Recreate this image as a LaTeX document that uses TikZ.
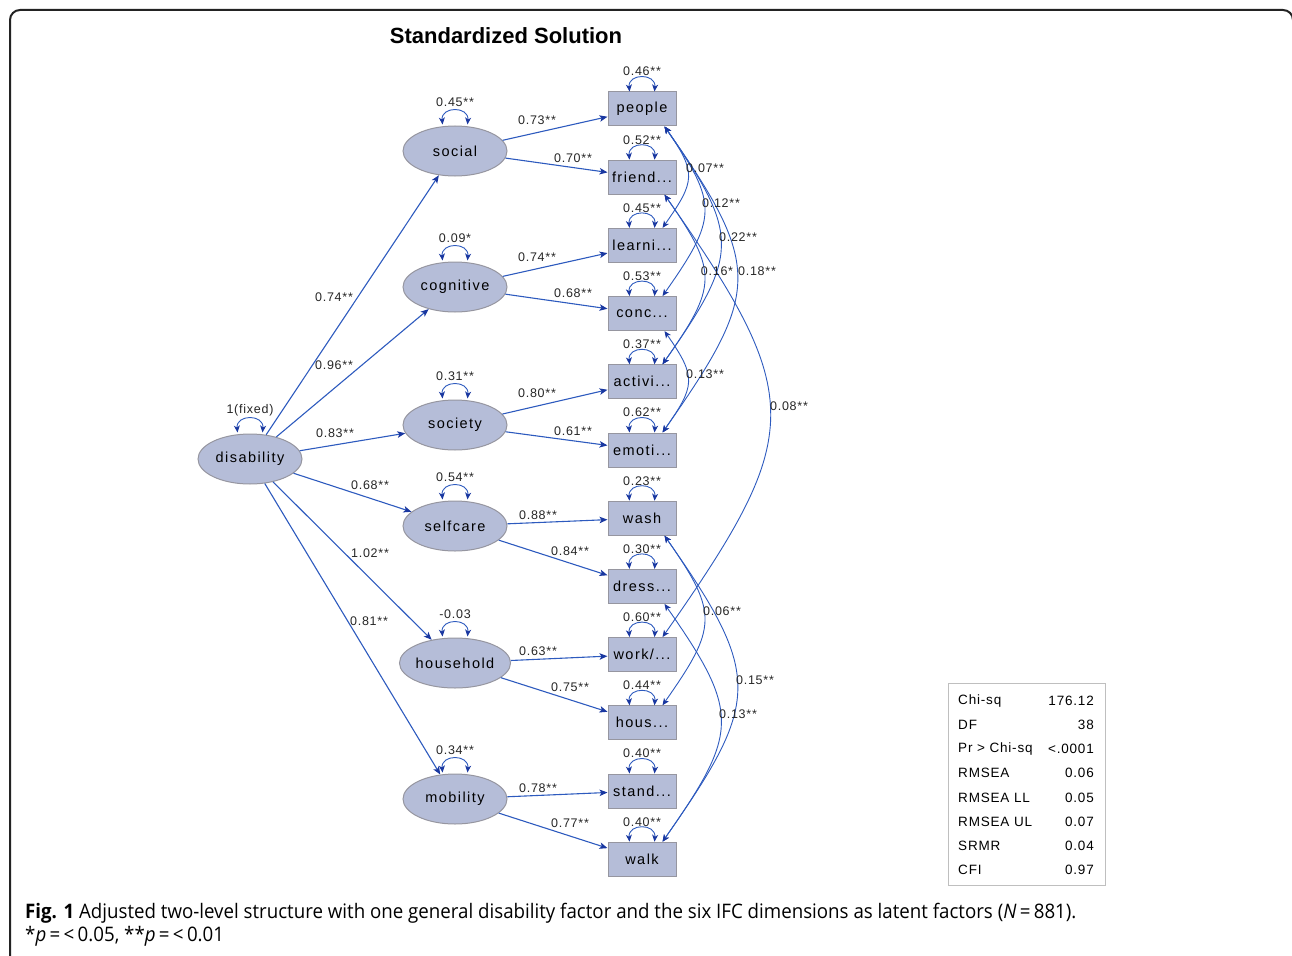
\documentclass[tikz,border=0pt]{standalone}
\usepackage{fontspec}
\setmainfont{Liberation Sans}
\newfontfamily\diagfont[LetterSpace=10]{Liberation Sans}
\newfontfamily\labfont[LetterSpace=6]{Liberation Sans}
\newfontfamily\capfont[FakeStretch=0.935]{Open Sans}
\usetikzlibrary{arrows.meta,shapes.geometric}
\definecolor{pathblue}{RGB}{45,90,190}
\definecolor{headblue}{RGB}{25,55,160}
\definecolor{nodefill}{RGB}{181,189,216}
\definecolor{nodeedge}{RGB}{150,150,160}
\definecolor{framecol}{RGB}{35,35,35}
\tikzset{
  latent/.style={ellipse, draw=nodeedge, fill=nodefill, line width=1pt, minimum width=104pt, minimum height=50pt, inner sep=0pt, font=\diagfont\fontsize{14.5}{16}\selectfont},
  manifest/.style={rectangle, draw=nodeedge, fill=nodefill, line width=1pt, minimum width=68pt, minimum height=34pt, inner sep=0pt, font=\diagfont\fontsize{14.5}{16}\selectfont},
  lab/.style={font=\labfont\fontsize{12.5}{14}\selectfont, inner sep=0pt, text=black!85},
  load/.style={draw=pathblue, line width=1.1pt, -{Stealth[length=8pt,width=6.5pt,inset=2pt,color=headblue]}},
  cov/.style={draw=pathblue, line width=0.9pt, {Stealth[length=7pt,width=6pt,inset=2pt,color=headblue]}-{Stealth[length=7pt,width=6pt,inset=2pt,color=headblue]}},
  fit/.style={font=\labfont\fontsize{13.5}{15}\selectfont, inner sep=0pt},
}
\begin{document}
\begin{tikzpicture}[x=1pt,y=1pt]
\useasboundingbox (0,0) rectangle (1292,-955);
\draw[framecol, line width=2pt, rounded corners=10pt] (10,-965) -- (10,-10) -- (1293,-10) -- (1293,-965);
\node[font=\bfseries\fontsize{22}{25}\selectfont] (title) at (506,-36) {Standardized Solution};

% latent factors
\node[latent] (disability) at (250,-459) {disability};
\node[latent] (social) at (455,-151) {social};
\node[latent] (cognitive) at (455,-287) {cognitive};
\node[latent] (society) at (455,-425) {society};
\node[latent] (selfcare) at (455,-526) {selfcare};
\node[latent] (household) at (455,-663) {household};
\node[latent] (mobility) at (455,-799) {mobility};

% indicators
\node[manifest] (people) at (642,-109) {people};
\node[manifest] (friend) at (642,-177.2) {friend...};
\node[manifest] (learni) at (642,-245.4) {learni...};
\node[manifest] (conc) at (642,-313.6) {conc...};
\node[manifest] (activi) at (642,-381.8) {activi...};
\node[manifest] (emoti) at (642,-450) {emoti...};
\node[manifest] (wash) at (642,-518.2) {wash};
\node[manifest] (dress) at (642,-586.4) {dress...};
\node[manifest] (work) at (642,-654.6) {work/...};
\node[manifest] (hous) at (642,-722.8) {hous...};
\node[manifest] (stand) at (642,-791) {stand...};
\node[manifest] (walk) at (642,-859.2) {walk};

% second-order loadings
\foreach \t in {social,cognitive,society,selfcare,household,mobility}
  \draw[load] (disability) -- (\t);
\node[lab] (l1) at (334,-297) {0.74**};
\node[lab] (l2) at (334,-365) {0.96**};
\node[lab] (l3) at (335,-433) {0.83**};
\node[lab] (l4) at (370,-485) {0.68**};
\node[lab] (l5) at (370,-553) {1.02**};
\node[lab] (l6) at (369,-621) {0.81**};

% first-order loadings
\draw[load] (social) -- (people);
\draw[load] (social) -- (friend);
\draw[load] (cognitive) -- (learni);
\draw[load] (cognitive) -- (conc);
\draw[load] (society) -- (activi);
\draw[load] (society) -- (emoti);
\draw[load] (selfcare) -- (wash);
\draw[load] (selfcare) -- (dress);
\draw[load] (household) -- (work);
\draw[load] (household) -- (hous);
\draw[load] (mobility) -- (stand);
\draw[load] (mobility) -- (walk);
\node[lab] (m1) at (537,-120) {0.73**};
\node[lab] (m2) at (573,-158) {0.70**};
\node[lab] (m3) at (537,-257) {0.74**};
\node[lab] (m4) at (573,-293) {0.68**};
\node[lab] (m5) at (537,-393) {0.80**};
\node[lab] (m6) at (573,-431) {0.61**};
\node[lab] (m7) at (538,-515) {0.88**};
\node[lab] (m8) at (570,-551) {0.84**};
\node[lab] (m9) at (538,-651) {0.63**};
\node[lab] (m10) at (570,-687) {0.75**};
\node[lab] (m11) at (538,-788) {0.78**};
\node[lab] (m12) at (570,-823) {0.77**};

% variances
\foreach \n/\v in {disability/1(fixed), social/0.45**, cognitive/0.09*, society/0.31**, selfcare/0.54**, household/-0.03, mobility/0.34**}{
  \draw[cov] ([xshift=-12.5pt,yshift=1pt]\n.north) to[out=95,in=85,looseness=1.9] ([xshift=12.5pt,yshift=1pt]\n.north);
  \node[lab] (v\n) at ([yshift=23pt]\n.north) {\v};
}
\foreach \n/\v in {people/0.46**, friend/0.52**, learni/0.45**, conc/0.53**, activi/0.37**, emoti/0.62**, wash/0.23**, dress/0.30**, work/0.60**, hous/0.44**, stand/0.40**, walk/0.40**}{
  \draw[cov] ([xshift=-12.5pt]\n.north) to[out=95,in=85,looseness=1.9] ([xshift=12.5pt]\n.north);
  \node[lab] (v\n) at ([yshift=20pt]\n.north) {\v};
}

% covariances between residuals
\draw[cov] ([xshift=-12pt]people.south east) to[out=-55,in=55,looseness=1.43] ([xshift=-14pt]learni.north east);
\draw[cov] ([xshift=-12pt]people.south east) to[out=-55,in=55,looseness=1.43] ([xshift=-14pt]conc.north east);
\draw[cov] ([xshift=-12pt]people.south east) to[out=-55,in=55,looseness=1.43] ([xshift=-14pt]activi.north east);
\draw[cov] ([xshift=-12pt]people.south east) to[out=-55,in=55,looseness=1.43] ([xshift=-14pt]emoti.north east);
\draw[cov] ([xshift=-12pt]friend.south east) to[out=-55,in=55,looseness=1.43] ([xshift=-14pt]activi.north east);
\draw[cov] ([xshift=-12pt]conc.south east) to[out=-55,in=55,looseness=1.43] ([xshift=-14pt]emoti.north east);
\draw[cov] ([xshift=-12pt]friend.south east) to[out=-55,in=55,looseness=1.43] ([xshift=-14pt]work.north east);
\draw[cov] ([xshift=-12pt]wash.south east) to[out=-55,in=55,looseness=1.43] ([xshift=-14pt]hous.north east);
\draw[cov] ([xshift=-12pt]wash.south east) to[out=-55,in=55,looseness=1.43] ([xshift=-14pt]walk.north east);
\draw[cov] ([xshift=-12pt]dress.south east) to[out=-55,in=55,looseness=1.43] ([xshift=-14pt]walk.north east);
\node[lab] (c1) at (705,-168) {0.07**};
\node[lab] (c2) at (721,-203) {0.12**};
\node[lab] (c3) at (738,-237) {0.22**};
\node[lab] (c4) at (757,-271) {0.18**};
\node[lab] (c5) at (717,-271) {0.16*};
\node[lab] (c6) at (705,-374) {0.13**};
\node[lab] (c7) at (789,-406) {0.08**};
\node[lab] (c8) at (722,-611) {0.06**};
\node[lab] (c9) at (755,-680) {0.15**};
\node[lab] (c10) at (738,-714) {0.13**};

% fit statistics
\draw[black!25, line width=1pt] (948,-683) rectangle (1105,-885);
\foreach \k/\a/\b in {0/Chi-sq/176.12, 1/DF/38, 2/Pr > Chi-sq/<.0001, 3/RMSEA/0.06, 4/RMSEA LL/0.05, 5/RMSEA UL/0.07, 6/SRMR/0.04, 7/CFI/0.97}{
  \node[fit, anchor=west] (fa\k) at (958,-701-24.1*\k) {\a};
  \node[fit, anchor=east] (fb\k) at (1094,-701-24.1*\k) {\b};
}

% caption
\node[anchor=west, inner sep=0pt, font=\capfont\fontsize{20}{22}\selectfont] (cap1) at (25,-913.5)
  {{\bfseries Fig. 1} Adjusted two-level structure with one general disability factor and the six IFC dimensions as latent factors (\textit{N}\,=\,881).};
\node[anchor=west, inner sep=0pt, font=\capfont\fontsize{20}{22}\selectfont] (cap2) at (25,-936)
  {*\textit{p}\,=\,<\,0.05, **\textit{p}\,=\,<\,0.01};
\end{tikzpicture}
\end{document}
